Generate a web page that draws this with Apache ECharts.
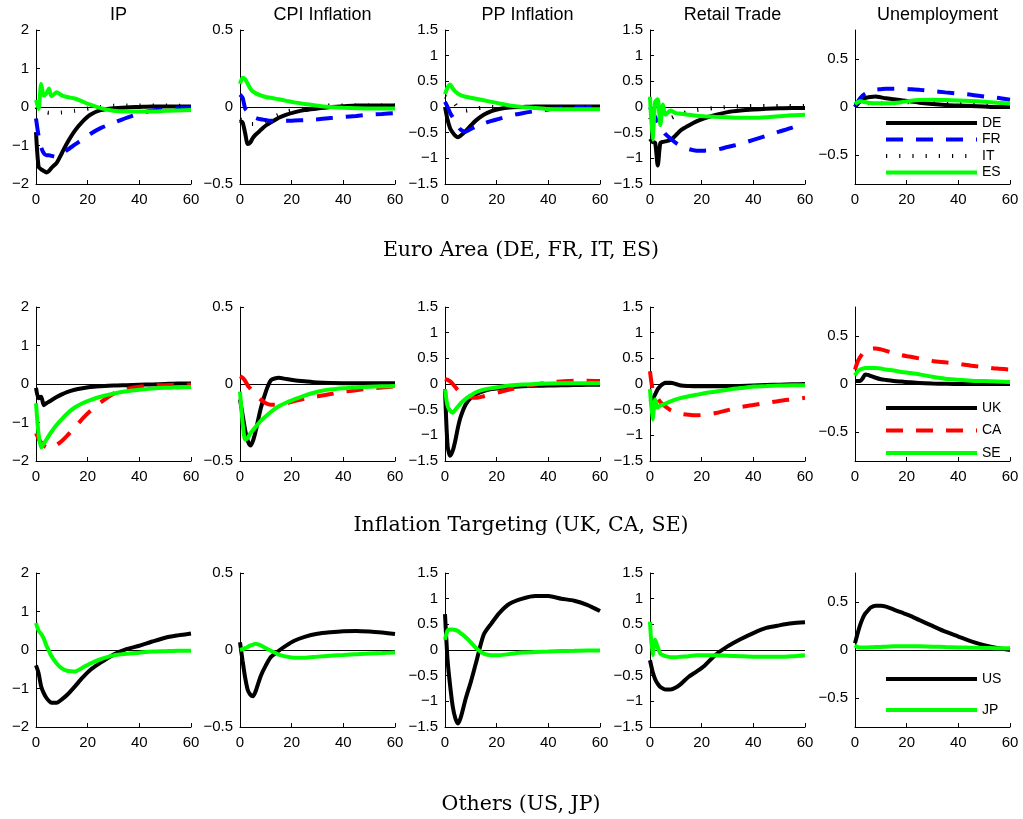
<!DOCTYPE html>
<html><head><meta charset="utf-8">
<script src="https://cdn.jsdelivr.net/npm/echarts@6/dist/echarts.min.js"></script>
<style>html,body{margin:0;padding:0;background:#fff}#c{width:1023px;height:819px}</style>
</head><body><div id="c"></div>
<script>
// ---------- data ----------
const horizon = [0,1,2,3,4,5,6,8,10,12,15,18,21,25,30,35,40,45,50,55,60];
const variables = ['IP','CPI Inflation','PP Inflation','Retail Trade','Unemployment'];
const groupTitles = ['Euro Area (DE, FR, IT, ES)','Inflation Targeting (UK, CA, SE)','Others (US, JP)'];
const groupCountries = [['DE','FR','IT','ES'],['UK','CA','SE'],['US','JP']];
const xTicks = [0,20,40,60];
const yMin = [-2,-0.5,-1.5,-1.5,-0.8];
const yMax = [2,0.5,1.5,1.5,0.8];
const yTicks = [[-2,-1,0,1,2],[-0.5,0,0.5],[-1.5,-1,-0.5,0,0.5,1,1.5],[-1.5,-1,-0.5,0,0.5,1,1.5],[-0.5,0,0.5]];

// Euro Area
const EA_IP_DE = [-0.65,-1.55,-1.62,-1.66,-1.7,-1.66,-1.58,-1.45,-1.2,-0.94,-0.62,-0.38,-0.2,-0.08,-0.03,-0.01,0,0.01,0.01,0.01,0.01];
const EA_IP_FR = [-0.3,-0.75,-1.05,-1.2,-1.25,-1.25,-1.27,-1.3,-1.22,-1.12,-0.98,-0.84,-0.7,-0.55,-0.41,-0.28,-0.17,-0.09,-0.05,-0.03,-0.02];
const EA_IP_IT = [0,-0.05,-0.1,-0.13,-0.14,-0.15,-0.15,-0.15,-0.14,-0.13,-0.1,-0.07,-0.03,0,0.03,0.04,0.04,0.04,0.04,0.03,0.03];
const EA_IP_ES = [0.18,-0.05,0.6,0.3,0.35,0.48,0.28,0.38,0.3,0.26,0.22,0.14,0.06,-0.03,-0.1,-0.12,-0.12,-0.12,-0.1,-0.09,-0.08];

const EA_CPI_DE = [-0.09,-0.1,-0.17,-0.24,-0.23,-0.2,-0.18,-0.15,-0.12,-0.1,-0.07,-0.05,-0.035,-0.02,-0.01,0,0.005,0.01,0.01,0.01,0.01];
const EA_CPI_FR = [0.08,0.06,-0.01,-0.03,-0.05,-0.06,-0.07,-0.08,-0.085,-0.09,-0.09,-0.09,-0.088,-0.085,-0.08,-0.072,-0.065,-0.058,-0.05,-0.045,-0.04];
const EA_CPI_IT = [-0.08,-0.09,-0.1,-0.1,-0.11,-0.11,-0.11,-0.1,-0.09,-0.07,-0.05,-0.03,-0.02,-0.01,0,0.01,0.01,0.01,0.01,0.01,0.01];
const EA_CPI_ES = [0.15,0.19,0.18,0.15,0.12,0.1,0.09,0.075,0.065,0.06,0.05,0.04,0.03,0.02,0.008,0,-0.005,-0.008,-0.01,-0.01,-0.01];

const EA_PP_DE = [0,-0.25,-0.42,-0.5,-0.56,-0.59,-0.56,-0.47,-0.36,-0.26,-0.15,-0.08,-0.04,-0.01,0,0.01,0.01,0.01,0.01,0.01,0.01];
const EA_PP_FR = [0.1,0,-0.12,-0.2,-0.28,-0.37,-0.44,-0.48,-0.43,-0.38,-0.32,-0.27,-0.23,-0.17,-0.12,-0.08,-0.05,-0.02,-0.01,0,0];
const EA_PP_IT = [0.2,0.18,0.16,0.12,0.05,-0.02,-0.05,-0.07,-0.05,-0.03,-0.01,0,0,0,0,0,0,0,0,0,0];
const EA_PP_ES = [0.25,0.38,0.44,0.36,0.3,0.26,0.23,0.2,0.18,0.16,0.13,0.1,0.07,0.03,0,-0.02,-0.04,-0.045,-0.045,-0.045,-0.045];

const EA_RT_DE = [-0.62,-0.68,-0.7,-1.14,-0.7,-0.68,-0.67,-0.64,-0.55,-0.45,-0.36,-0.28,-0.22,-0.16,-0.1,-0.07,-0.05,-0.035,-0.025,-0.02,-0.02];
const EA_RT_FR = [0,-0.1,-0.2,-0.3,-0.38,-0.46,-0.53,-0.62,-0.7,-0.76,-0.82,-0.85,-0.85,-0.84,-0.78,-0.72,-0.64,-0.56,-0.48,-0.4,-0.31];
const EA_RT_IT = [-0.2,-0.28,-0.32,-0.32,-0.3,-0.29,-0.27,-0.22,-0.17,-0.13,-0.09,-0.06,-0.04,-0.02,0,0.01,0.02,0.02,0.02,0.02,0.02];
const EA_RT_ES = [0.2,-0.64,0.1,0.15,-0.35,0.05,-0.15,-0.07,-0.12,-0.13,-0.15,-0.17,-0.18,-0.19,-0.2,-0.21,-0.21,-0.2,-0.18,-0.16,-0.15];

const EA_UN_DE = [0,0.03,0.06,0.08,0.095,0.1,0.105,0.11,0.1,0.09,0.08,0.07,0.06,0.045,0.03,0.02,0.015,0.01,0.005,0,0];
const EA_UN_FR = [0,0.05,0.09,0.12,0.14,0.15,0.16,0.18,0.185,0.19,0.19,0.19,0.185,0.178,0.165,0.152,0.14,0.128,0.11,0.095,0.075];
const EA_UN_IT = [0.02,0.03,0.04,0.04,0.04,0.04,0.04,0.04,0.04,0.04,0.04,0.045,0.05,0.05,0.05,0.05,0.045,0.04,0.035,0.03,0.025];
const EA_UN_ES = [0.03,0.05,0.06,0.055,0.05,0.045,0.042,0.04,0.04,0.04,0.042,0.05,0.062,0.072,0.075,0.072,0.068,0.062,0.055,0.045,0.035];

// Inflation Targeting
const IT_IP_UK = [-0.1,-0.37,-0.33,-0.55,-0.5,-0.46,-0.42,-0.34,-0.27,-0.21,-0.15,-0.11,-0.08,-0.06,-0.04,-0.03,-0.02,-0.01,0,0.01,0.01];
const IT_IP_CA = [-1.28,-1.42,-1.52,-1.6,-1.64,-1.66,-1.65,-1.58,-1.48,-1.35,-1.13,-0.9,-0.7,-0.48,-0.25,-0.13,-0.07,-0.04,-0.03,-0.02,-0.02];
const IT_IP_SE = [-0.5,-1.3,-1.65,-1.55,-1.45,-1.34,-1.24,-1.06,-0.91,-0.77,-0.61,-0.5,-0.42,-0.33,-0.25,-0.19,-0.15,-0.12,-0.1,-0.09,-0.08];

const IT_CPI_UK = [-0.1,-0.2,-0.3,-0.37,-0.4,-0.37,-0.31,-0.16,-0.05,0.025,0.04,0.032,0.025,0.018,0.01,0.006,0.005,0.005,0.005,0.005,0.005];
const IT_CPI_CA = [0.05,0.04,0.02,-0.01,-0.03,-0.05,-0.07,-0.1,-0.125,-0.135,-0.135,-0.125,-0.11,-0.095,-0.08,-0.065,-0.05,-0.04,-0.03,-0.022,-0.015];
const IT_CPI_SE = [-0.05,-0.25,-0.36,-0.35,-0.32,-0.3,-0.28,-0.24,-0.21,-0.18,-0.145,-0.12,-0.1,-0.075,-0.05,-0.035,-0.027,-0.022,-0.018,-0.015,-0.013];

const IT_PP_UK = [-0.1,-1.2,-1.4,-1.3,-1.1,-0.85,-0.65,-0.4,-0.27,-0.2,-0.14,-0.1,-0.08,-0.06,-0.045,-0.035,-0.03,-0.025,-0.02,-0.015,-0.013];
const IT_PP_CA = [0.1,0.08,0.05,0,-0.06,-0.12,-0.17,-0.23,-0.26,-0.27,-0.24,-0.2,-0.16,-0.11,-0.05,-0.01,0.03,0.05,0.065,0.065,0.06];
const IT_PP_SE = [-0.1,-0.43,-0.52,-0.56,-0.5,-0.44,-0.38,-0.29,-0.22,-0.16,-0.11,-0.08,-0.06,-0.03,-0.01,0,0.01,0.013,0.013,0.013,0.013];

const IT_RT_UK = [-0.35,-0.3,-0.2,-0.1,-0.04,0,0.025,0.025,0,-0.03,-0.04,-0.045,-0.045,-0.045,-0.045,-0.04,-0.03,-0.02,-0.013,-0.005,0];
const IT_RT_CA = [0.25,-0.1,-0.2,-0.28,-0.35,-0.4,-0.44,-0.51,-0.55,-0.58,-0.6,-0.61,-0.6,-0.57,-0.51,-0.45,-0.41,-0.37,-0.33,-0.3,-0.27];
const IT_RT_SE = [-0.1,-0.69,-0.3,-0.46,-0.42,-0.4,-0.38,-0.34,-0.3,-0.27,-0.24,-0.21,-0.18,-0.15,-0.11,-0.08,-0.05,-0.04,-0.03,-0.025,-0.025];

const IT_UN_UK = [0.03,0.03,0.03,0.06,0.1,0.095,0.085,0.065,0.05,0.042,0.032,0.025,0.018,0.01,0.005,0.002,0,0,0,0,0];
const IT_UN_CA = [0.15,0.23,0.28,0.32,0.35,0.36,0.365,0.37,0.36,0.345,0.32,0.3,0.285,0.265,0.24,0.225,0.21,0.19,0.175,0.16,0.15];
const IT_UN_SE = [0.09,0.13,0.15,0.16,0.165,0.165,0.165,0.165,0.16,0.15,0.14,0.125,0.115,0.1,0.075,0.055,0.045,0.035,0.03,0.025,0.02];

// Others
const OT_IP_US = [-0.4,-0.6,-0.95,-1.12,-1.24,-1.32,-1.37,-1.37,-1.28,-1.17,-0.95,-0.72,-0.52,-0.33,-0.12,0.02,0.11,0.22,0.32,0.38,0.43];
const OT_IP_JP = [0.7,0.5,0.42,0.3,0.12,-0.02,-0.16,-0.35,-0.48,-0.54,-0.56,-0.46,-0.35,-0.24,-0.14,-0.1,-0.07,-0.04,-0.03,-0.02,-0.02];

const OT_CPI_US = [0.05,-0.07,-0.18,-0.26,-0.29,-0.3,-0.27,-0.17,-0.1,-0.045,-0.005,0.03,0.06,0.085,0.105,0.115,0.122,0.124,0.12,0.113,0.104];
const OT_CPI_JP = [0,0.005,0.012,0.02,0.03,0.035,0.04,0.03,0.012,-0.005,-0.03,-0.043,-0.05,-0.05,-0.043,-0.037,-0.032,-0.027,-0.022,-0.02,-0.017];

const OT_PP_US = [0.7,-0.2,-0.7,-1.1,-1.33,-1.43,-1.33,-0.95,-0.62,-0.25,0.3,0.52,0.72,0.9,1.0,1.05,1.05,1.0,0.96,0.88,0.76];
const OT_PP_JP = [0.2,0.38,0.4,0.4,0.39,0.37,0.33,0.25,0.15,0.04,-0.07,-0.1,-0.1,-0.08,-0.05,-0.04,-0.03,-0.02,-0.015,-0.01,-0.01];

const OT_RT_US = [-0.2,-0.42,-0.57,-0.66,-0.72,-0.75,-0.77,-0.77,-0.73,-0.66,-0.52,-0.42,-0.31,-0.11,0.07,0.21,0.33,0.43,0.48,0.52,0.54];
const OT_RT_JP = [0.55,-0.1,0.2,0.05,-0.07,-0.1,-0.12,-0.14,-0.14,-0.13,-0.12,-0.1,-0.1,-0.1,-0.11,-0.12,-0.13,-0.13,-0.13,-0.12,-0.1];

const OT_UN_US = [0.07,0.17,0.26,0.33,0.38,0.41,0.44,0.46,0.46,0.45,0.42,0.39,0.36,0.31,0.25,0.19,0.14,0.09,0.05,0.02,0];
const OT_UN_JP = [0.05,0.03,0.027,0.027,0.027,0.027,0.028,0.03,0.032,0.035,0.038,0.04,0.04,0.038,0.035,0.03,0.027,0.024,0.021,0.019,0.017];

// panel table built from the arrays above: [row][col] -> {country: values}
const panels = [
  [{DE:EA_IP_DE,FR:EA_IP_FR,IT:EA_IP_IT,ES:EA_IP_ES},{DE:EA_CPI_DE,FR:EA_CPI_FR,IT:EA_CPI_IT,ES:EA_CPI_ES},
   {DE:EA_PP_DE,FR:EA_PP_FR,IT:EA_PP_IT,ES:EA_PP_ES},{DE:EA_RT_DE,FR:EA_RT_FR,IT:EA_RT_IT,ES:EA_RT_ES},
   {DE:EA_UN_DE,FR:EA_UN_FR,IT:EA_UN_IT,ES:EA_UN_ES}],
  [{UK:IT_IP_UK,CA:IT_IP_CA,SE:IT_IP_SE},{UK:IT_CPI_UK,CA:IT_CPI_CA,SE:IT_CPI_SE},
   {UK:IT_PP_UK,CA:IT_PP_CA,SE:IT_PP_SE},{UK:IT_RT_UK,CA:IT_RT_CA,SE:IT_RT_SE},
   {UK:IT_UN_UK,CA:IT_UN_CA,SE:IT_UN_SE}],
  [{US:OT_IP_US,JP:OT_IP_JP},{US:OT_CPI_US,JP:OT_CPI_JP},
   {US:OT_PP_US,JP:OT_PP_JP},{US:OT_RT_US,JP:OT_RT_JP},
   {US:OT_UN_US,JP:OT_UN_JP}]
];

// ---------- styling ----------
const SANS = '"Liberation Sans", Arial, Helvetica, sans-serif';
const SERIF = '"DejaVu Serif", "Liberation Serif", serif';
const lineColor = {DE:'#000000',FR:'#0000ff',IT:'#000000',ES:'#00ff00',UK:'#000000',CA:'#ff0000',SE:'#00ff00',US:'#000000',JP:'#00ff00'};
const lineDash = {FR:[17,13],CA:[17,13],IT:[1.2,12]};
const colLeft = [36,240,445,650,855];
const rowTop = [30,307,573];
const PW = 155, PH = 154;
const legendTop = [116,401,672];
const legendGap = [2.5,8.5,17];
const captionY = [235,510,789];
const minus = v => String(v).replace('-', '\u2212');

const grid = [], xAxis = [], yAxis = [], series = [], title = [], legend = [];
let gi = 0;
for (let r = 0; r < 3; r++) {
  for (let c = 0; c < 5; c++) {
    grid.push({left: colLeft[c], top: rowTop[r], width: PW, height: PH, containLabel: false});
    xAxis.push({
      type: 'value', gridIndex: gi, min: 0, max: 60,
      axisLine: {show: true, onZero: false, lineStyle: {color: '#000', width: 1}},
      axisTick: {show: true, inside: true, length: 4, customValues: xTicks, lineStyle: {color: '#000'}},
      axisLabel: {customValues: xTicks, color: '#000', fontSize: 15, fontFamily: SANS, margin: 8},
      splitLine: {show: false}
    });
    yAxis.push({
      type: 'value', gridIndex: gi, min: yMin[c], max: yMax[c],
      axisLine: {show: true, onZero: false, lineStyle: {color: '#000', width: 1}},
      axisTick: {show: true, inside: true, length: 4, customValues: yTicks[c], lineStyle: {color: '#000'}},
      axisLabel: {customValues: yTicks[c], color: '#000', fontSize: 15, fontFamily: SANS, margin: 7, formatter: minus},
      splitLine: {show: false}
    });
    const countries = groupCountries[r];
    countries.forEach((name, k) => {
      const vals = panels[r][c][name];
      const s = {
        type: 'line', name: name, xAxisIndex: gi, yAxisIndex: gi,
        data: horizon.map((h, i) => [h, vals[i]]),
        showSymbol: false, symbol: 'none', smooth: 0.25, silent: true,
        lineStyle: {color: lineColor[name], width: 4, type: lineDash[name] || 'solid', cap: 'butt'},
        itemStyle: {color: lineColor[name]},
        z: 2 + k
      };
      if (k === 0) {
        s.markLine = {silent: true, symbol: 'none', label: {show: false},
          lineStyle: {color: '#000', width: 1, type: 'solid'}, data: [{yAxis: 0}], z: 1};
      }
      series.push(s);
    });
    gi++;
  }
  title.push({text: groupTitles[r], left: 516, top: captionY[r], textAlign: 'center',
    textStyle: {fontFamily: SERIF, fontSize: 20.5, fontWeight: 'normal', color: '#000'}});
  legend.push({
    data: groupCountries[r], orient: 'vertical', left: 884, top: legendTop[r],
    itemWidth: 91, itemHeight: 14, itemGap: legendGap[r], padding: 0, selectedMode: false,
    textStyle: {fontFamily: SANS, fontSize: 14, color: '#000'},
    itemStyle: {color: 'rgba(0,0,0,0)', borderWidth: 0, opacity: 0},
    lineStyle: {width: 4}
  });
}
variables.forEach((v, c) => {
  title.push({text: v, left: colLeft[c] + PW / 2, top: 1, textAlign: 'center',
    textStyle: {fontFamily: SANS, fontSize: 18, fontWeight: 'normal', color: '#000'}});
});

const chart = echarts.init(document.getElementById('c'), null, {renderer: 'canvas'});
chart.setOption({animation: false, backgroundColor: '#fff', title, legend, grid, xAxis, yAxis, series});
</script></body></html>
